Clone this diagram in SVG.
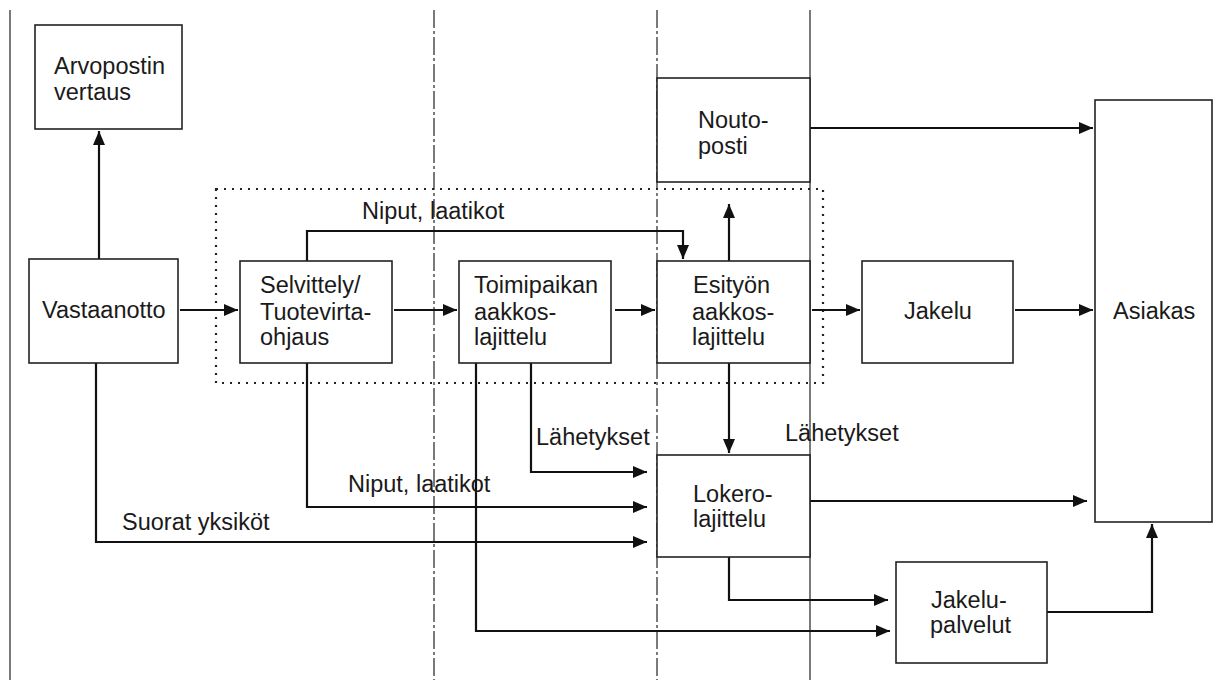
<svg xmlns="http://www.w3.org/2000/svg" width="1215" height="680" viewBox="0 0 1215 680">
<style>
.bg{fill:#fff}
.col{stroke:#333;stroke-width:1.3;fill:none}
.dash{stroke-dasharray:18 3 3 3}
.box{fill:#fff;stroke:#222;stroke-width:1.6}
.grp{fill:none;stroke:#222;stroke-width:2.2;stroke-dasharray:2 6}
.t{font-family:"Liberation Sans",Arial,Helvetica,sans-serif;font-size:23.5px;fill:#1a1a1a}
.c{fill:none;stroke:#111;stroke-width:2.2}
</style>
<defs>
<marker id="ah" markerUnits="userSpaceOnUse" markerWidth="14" markerHeight="12" viewBox="0 0 14 12" refX="14" refY="6" orient="auto">
<path d="M0,0 L14,6 L0,12 Z" fill="#111"/>
</marker>
</defs>
<rect class="bg" x="0" y="0" width="1215" height="680"/>
<g id="columns">
<line class="col" x1="10" y1="10" x2="10" y2="680"/>
<line class="col dash" x1="434" y1="10" x2="434" y2="680"/>
<line class="col dash" x1="657" y1="10" x2="657" y2="680"/>
<line class="col" x1="810" y1="10" x2="810" y2="680"/>
</g>
<g id="group-frame">
<rect class="grp" x="216" y="189" width="607" height="194"/>
</g>
<g id="connectors">
<path class="c" d="M99,259 V131" marker-end="url(#ah)"/>
<path class="c" d="M180,310 H238" marker-end="url(#ah)"/>
<path class="c" d="M307,261 V231 H683 V259" marker-end="url(#ah)"/>
<path class="c" d="M394,310 H457" marker-end="url(#ah)"/>
<path class="c" d="M615,310 H655" marker-end="url(#ah)"/>
<path class="c" d="M729,261 V204" marker-end="url(#ah)"/>
<path class="c" d="M810,128 H1093" marker-end="url(#ah)"/>
<path class="c" d="M812,310 H860" marker-end="url(#ah)"/>
<path class="c" d="M1015,310 H1093" marker-end="url(#ah)"/>
<path class="c" d="M729,363 V453" marker-end="url(#ah)"/>
<path class="c" d="M531,363 V472 H647" marker-end="url(#ah)"/>
<path class="c" d="M307,363 V507 H647" marker-end="url(#ah)"/>
<path class="c" d="M96,363 V542 H647" marker-end="url(#ah)"/>
<path class="c" d="M810,501 H1087" marker-end="url(#ah)"/>
<path class="c" d="M729,557 V600 H888" marker-end="url(#ah)"/>
<path class="c" d="M476,363 V631 H890" marker-end="url(#ah)"/>
<path class="c" d="M1047,612 H1152 V524" marker-end="url(#ah)"/>
<text class="t" x="362" y="219">Niput, laatikot</text>
<text class="t" x="536" y="445">Lähetykset</text>
<text class="t" x="785" y="441">Lähetykset</text>
<text class="t" x="348" y="492">Niput, laatikot</text>
<text class="t" x="122" y="530">Suorat yksiköt</text>
</g>
<g id="arvopostin">
<rect class="box" x="35" y="25" width="147" height="104"/>
<text class="t" x="54" y="74">Arvopostin</text>
<text class="t" x="54" y="100">vertaus</text>
</g>
<g id="vastaanotto">
<rect class="box" x="29" y="259" width="149" height="104"/>
<text class="t" x="42" y="318">Vastaanotto</text>
</g>
<g id="selvittely">
<rect class="box" x="240" y="261" width="152" height="102"/>
<text class="t" x="260" y="293">Selvittely/</text>
<text class="t" x="260" y="320">Tuotevirta-</text>
<text class="t" x="260" y="345">ohjaus</text>
</g>
<g id="toimipaikan">
<rect class="box" x="459" y="261" width="152" height="102"/>
<text class="t" x="474" y="293">Toimipaikan</text>
<text class="t" x="474" y="320">aakkos-</text>
<text class="t" x="474" y="345">lajittelu</text>
</g>
<g id="noutoposti">
<rect class="box" x="657" y="78" width="153" height="104"/>
<text class="t" x="698" y="128">Nouto-</text>
<text class="t" x="698" y="154">posti</text>
</g>
<g id="esityon">
<rect class="box" x="657" y="261" width="153" height="102"/>
<text class="t" x="693" y="293">Esityön</text>
<text class="t" x="692" y="320">aakkos-</text>
<text class="t" x="692" y="345">lajittelu</text>
</g>
<g id="jakelu">
<rect class="box" x="862" y="261" width="151" height="102"/>
<text class="t" x="904" y="319">Jakelu</text>
</g>
<g id="asiakas">
<rect class="box" x="1095" y="100" width="117" height="422"/>
<text class="t" x="1113" y="319">Asiakas</text>
</g>
<g id="lokero">
<rect class="box" x="657" y="455" width="153" height="102"/>
<text class="t" x="693" y="502">Lokero-</text>
<text class="t" x="693" y="527">lajittelu</text>
</g>
<g id="jakelupalvelut">
<rect class="box" x="896" y="562" width="151" height="101"/>
<text class="t" x="931" y="608">Jakelu-</text>
<text class="t" x="930" y="633">palvelut</text>
</g>
</svg>
